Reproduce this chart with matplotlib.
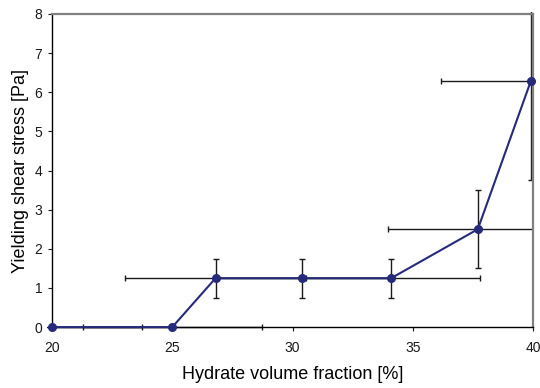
import matplotlib
matplotlib.use("Agg")
import matplotlib.pyplot as plt
from matplotlib.patches import Rectangle

plt.rcParams['font.family'] = ['Liberation Sans', 'DejaVu Sans']

# hydrate volume fraction [%] and yield stress [Pa]
phi = [20.0, 25.0, 26.8, 30.4, 34.1, 37.7, 39.9]
tau = [0.0, 0.0, 1.25, 1.25, 1.25, 2.5, 6.28]
phi_err = [3.73, 3.73, 3.75, 3.6, 3.7, 3.75, 3.75]
tau_err = [0.0, 0.0, 0.5, 0.5, 0.5, 1.0, 2.52]

xticks = [20, 25, 30, 35, 40]
yticks = [0, 1, 2, 3, 4, 5, 6, 7, 8]

fig = plt.figure(figsize=(5.4, 3.88), dpi=100)
ax = fig.add_axes([0.0963, 0.157, 0.891, 0.807])

eb = ax.errorbar(phi, tau, xerr=phi_err, yerr=tau_err, fmt='none',
                 ecolor='#1a1a1a', elinewidth=1.0, capsize=2.5, capthick=1.0,
                 zorder=2)
# excel lets the bars run a bit past the plot frame
clip = Rectangle((-0.01, -0.01), 1.01, 1.015, transform=ax.transAxes,
                 facecolor='none', edgecolor='none')
ax.add_patch(clip)
for art in eb.lines[1] + eb.lines[2]:
    art.set_clip_path(clip)

ax.plot(phi, tau, color='#262a7a', lw=1.5, marker='o', ms=5.5,
        markerfacecolor='#262a7a', markeredgecolor='#262a7a', zorder=3,
        clip_on=False)

ax.set_xlim(20, 40)
ax.set_ylim(0, 8)
ax.set_xticks(xticks)
ax.set_yticks(yticks)
ax.tick_params(direction='out', length=3, width=0.8, labelsize=10,
               pad=4, colors='#1a1a1a')
ax.tick_params(axis='x', pad=7)

for s in ['left', 'bottom']:
    ax.spines[s].set_color('black')
    ax.spines[s].set_linewidth(1.0)
for s in ['top', 'right']:
    ax.spines[s].set_color('#808080')
    ax.spines[s].set_linewidth(1.6)

ax.set_xlabel('Hydrate volume fraction [%]', fontsize=13, labelpad=8)
ax.set_ylabel('Yielding shear stress [Pa]', fontsize=13, labelpad=4)

fig.savefig('out.png', dpi=100)
